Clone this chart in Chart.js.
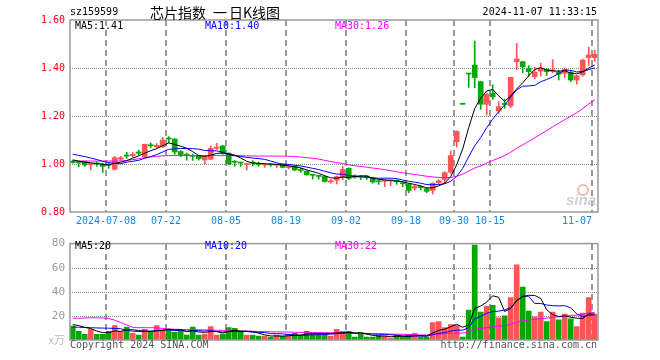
<!DOCTYPE html>
<html>
<head>
<meta charset="utf-8">
<script src="https://cdn.jsdelivr.net/npm/chart.js@4.4.1/dist/chart.umd.min.js"></script>
<style>
  body { margin: 0; background: #fff; }
  #wrap { position: relative; width: 660px; height: 360px; }
  canvas { position: absolute; left: 0; }
  #priceCanvas { top: 0; }
  #volCanvas { top: 232px; }
</style>
</head>
<body>
<div id="wrap">
  <canvas id="priceCanvas" width="660" height="232" style="width:660px;height:232px"></canvas>
  <canvas id="volCanvas" width="660" height="128" style="width:660px;height:128px"></canvas>
</div>
<script>
// trading days, 2024-06-28 .. 2024-11-07
const dates = [
  '06-28','07-01','07-02','07-03','07-04','07-05','07-08','07-09','07-10','07-11',
  '07-12','07-15','07-16','07-17','07-18','07-19','07-22','07-23','07-24','07-25',
  '07-26','07-29','07-30','07-31','08-01','08-02','08-05','08-06','08-07','08-08',
  '08-09','08-12','08-13','08-14','08-15','08-16','08-19','08-20','08-21','08-22',
  '08-23','08-26','08-27','08-28','08-29','08-30','09-02','09-03','09-04','09-05',
  '09-06','09-09','09-10','09-11','09-12','09-13','09-18','09-19','09-20','09-23',
  '09-24','09-25','09-26','09-27','09-30','10-08','10-09','10-10','10-11','10-14',
  '10-15','10-16','10-17','10-18','10-21','10-22','10-23','10-24','10-25','10-28',
  '10-29','10-30','10-31','11-01','11-04','11-05','11-06','11-07'
];

const opens = [
  1.012,1.008,1.010,0.997,1.004,1.000,0.998,0.978,1.020,1.035,
  1.035,1.050,1.030,1.080,1.072,1.072,1.106,1.104,1.052,1.040,
  1.035,1.033,1.017,1.020,1.065,1.075,1.045,1.010,1.006,0.998,
  1.006,1.000,0.996,0.998,0.995,1.000,0.985,0.990,0.976,0.970,
  0.955,0.950,0.948,0.925,0.933,0.945,0.982,0.950,0.948,0.950,
  0.940,0.930,0.928,0.930,0.932,0.922,0.915,0.900,0.906,0.897,
  0.890,0.922,0.936,0.966,1.093,1.249,1.375,1.412,1.343,1.249,
  1.294,1.221,1.252,1.242,1.426,1.426,1.398,1.364,1.387,1.394,
  1.386,1.382,1.378,1.382,1.350,1.371,1.443,1.443
];
const highs = [
  1.016,1.012,1.012,1.004,1.010,1.003,1.004,1.032,1.032,1.049,
  1.048,1.058,1.083,1.088,1.085,1.111,1.114,1.106,1.056,1.046,
  1.040,1.036,1.033,1.075,1.086,1.078,1.047,1.015,1.008,1.003,
  1.014,1.008,1.003,1.000,0.998,1.000,0.992,0.992,0.982,0.972,
  0.956,0.953,0.950,0.936,0.950,0.990,0.984,0.955,0.950,0.952,
  0.945,0.935,0.935,0.934,0.935,0.925,0.918,0.912,0.910,0.902,
  0.922,0.935,0.968,1.054,1.138,1.249,1.375,1.512,1.345,1.297,
  1.330,1.260,1.270,1.362,1.503,1.428,1.410,1.403,1.420,1.398,
  1.435,1.390,1.400,1.390,1.370,1.437,1.487,1.475
];
const lows = [
  1.004,0.988,0.990,0.975,0.990,0.965,0.982,0.975,1.015,1.024,
  1.028,1.037,1.025,1.068,1.068,1.068,1.088,1.040,1.030,1.016,
  1.015,1.016,1.000,1.018,1.060,1.040,0.998,0.990,0.990,0.975,
  0.992,0.990,0.986,0.990,0.985,0.985,0.980,0.972,0.965,0.953,
  0.937,0.937,0.925,0.920,0.917,0.935,0.935,0.940,0.935,0.935,
  0.920,0.915,0.906,0.910,0.915,0.905,0.880,0.890,0.892,0.880,
  0.875,0.918,0.918,0.960,1.070,1.249,1.319,1.318,1.228,1.204,
  1.270,1.211,1.232,1.235,1.392,1.380,1.366,1.355,1.366,1.369,
  1.380,1.350,1.360,1.343,1.333,1.366,1.410,1.427
];
const closes = [
  1.006,1.005,0.996,1.002,1.000,0.990,0.995,1.026,1.026,1.033,
  1.040,1.045,1.082,1.076,1.078,1.100,1.104,1.050,1.037,1.036,
  1.032,1.022,1.030,1.065,1.070,1.045,1.000,1.007,1.004,1.002,
  1.004,0.998,0.998,0.996,0.997,0.986,0.988,0.975,0.973,0.955,
  0.953,0.948,0.927,0.930,0.947,0.977,0.940,0.945,0.945,0.943,
  0.925,0.926,0.930,0.932,0.928,0.918,0.890,0.906,0.902,0.886,
  0.920,0.930,0.964,1.035,1.136,1.249,1.375,1.360,1.249,1.290,
  1.280,1.239,1.248,1.361,1.437,1.405,1.385,1.382,1.399,1.385,
  1.392,1.374,1.394,1.350,1.367,1.433,1.454,1.457
];
// volume, 万手
const volumes = [
  11.5,7.2,4.8,8.8,4.8,4.8,7.2,12,7.2,10.7,
  5.6,4,8.8,7.2,12,8,8.8,6.4,8,4,
  10.7,4,5,11.2,4,5,10.4,9.6,7.2,4,
  4,3.2,3.2,2.4,4,3.2,4.8,5.6,3.2,7.2,
  5.6,5.6,5.6,3.2,8.8,7.2,7.2,2.4,4.8,2.4,
  2.4,4,3.2,1.6,4,2.4,4,5.6,2.4,2.4,
  14.4,15.2,10.4,12.8,12,2.4,24.8,78.7,23.2,28,
  28.8,18.4,20,35.2,62.4,44,24,19.2,23.2,15.2,
  23.2,16.8,21.6,17.6,11.2,22.4,35.2,21.6
];

// moving average values before a full window is on screen
const ma5Head = [1.017, 1.012, 1.008, 1.005];
const ma10Head = [1.041, 1.036, 1.031, 1.025, 1.019, 1.011, 1.006, 1.003, 1.001];
const ma30Head = [
  1.0125,1.0125,1.0125,1.0125,1.0125,1.0125,1.0125,1.0125,1.0125,1.015,
  1.018,1.022,1.026,1.029,1.032,1.034,1.035,1.035,1.035,1.035,
  1.035,1.035,1.035,1.035,1.035,1.035,1.035,1.035,1.035
];
const volMa5Head = [12.8, 12, 10.5, 9.5];
const volMa10Head = [10.7, 10.6, 10.4, 10.2, 10, 9.9, 9.8, 9.6, 9.4];
const volMa30Head = [
  18.1,18.0,18.2,18.4,18.4,18.3,17.8,16.5,14.5,12.5,
  10.5,10.2,10.2,10.2,10.1,9.6,9.2,8.9,8.8,8.7,
  8.6,8.5,8.4,8.3,8.1,8.0,7.9,7.8,7.6
];

// x-axis labels: slot index -> text
const tickSlots = [6, 16, 26, 36, 46, 56, 64, 70, 87];
const tickLabels = ['2024-07-08','07-22','08-05','08-19','09-02','09-18','09-30','10-15','11-07'];

const RED = '#ff5555';
const GREEN = '#00aa00';
const MONO = 'DejaVu Sans Mono';

function movingAverage(values, n, head) {
    return values.map((_, i) => {
        if (i < n - 1) return head[i];
        let sum = 0;
        for (let k = i - n + 1; k <= i; k++) sum += values[k];
        return sum / n;
    });
}

const xs = dates.map((_, i) => i + 0.45);
const candleColor = i => closes[i] > opens[i] ? RED : GREEN;
const pts = arr => arr.map((v, i) => ({ x: xs[i], y: v }));

function maLine(data, color) {
    return {
        type: 'line',
        data: pts(data),
        borderColor: color,
        borderWidth: 1,
        pointRadius: 0,
        tension: 0,
        order: 0
    };
}

function xScale() {
    return {
        type: 'linear',
        min: 0,
        max: 88,
        offset: false,
        afterBuildTicks: s => { s.ticks = tickSlots.map(v => ({ value: v })); },
        afterFit: s => { s.height = 20; },
        ticks: { display: false },
        grid: { display: false },
        border: { display: false }
    };
}

// dashes drawn as short solid pieces
function drawGrid(chart) {
    const a = chart.chartArea;
    const c = chart.ctx;
    const xa = chart.scales.x;
    const ya = chart.scales.y;
    c.save();
    c.fillStyle = '#999999';
    tickSlots.forEach(v => {
        const px = Math.round(xa.getPixelForValue(v));
        for (let y = Math.round(a.top); y < a.bottom; y += 10) {
            c.fillRect(px - 1, y, 2, Math.min(6, a.bottom - y));
        }
    });
    c.fillStyle = '#888888';
    const step = ya.max > 10 ? 20 : 0.2;
    for (let v = ya.min + step; v < ya.max - step / 2; v += step) {
        const py = Math.round(ya.getPixelForValue(v));
        for (let x = Math.round(a.left); x < a.right; x += 2) {
            c.fillRect(x, py, 1, 1);
        }
    }
    c.restore();
}

const gridAndFrame = {
    id: 'gridAndFrame',
    beforeDatasetsDraw(chart) {
        drawGrid(chart);
    },
    afterDraw(chart) {
        const a = chart.chartArea;
        const c = chart.ctx;
        c.save();
        c.strokeStyle = '#999';
        c.lineWidth = 1.5;
        c.strokeRect(a.left, a.top, a.right - a.left, a.bottom - a.top);
        c.restore();
    }
};

function text(c, str, x, y, color, font, align) {
    c.fillStyle = color;
    c.font = font;
    c.textAlign = align || 'left';
    c.textBaseline = 'middle';
    c.fillText(str, x, y);
}

const priceLabels = {
    id: 'priceLabels',
    afterDraw(chart) {
        const c = chart.ctx;
        const f = '10px ' + MONO;
        const cjk = '14px "Noto Sans CJK SC"';
        c.save();
        text(c, 'sz159599', 70, 12.5, '#000', f);
        text(c, '芯片指数', 150, 12.5, '#000', cjk);
        text(c, '一', 213, 12.5, '#000', cjk);
        text(c, '日K线图', 229, 12.5, '#000', cjk);
        text(c, '2024-11-07 11:33:15', 597, 12.5, '#000', f, 'right');
        text(c, 'MA5:1.41', 75, 26.5, '#000', f);
        text(c, 'MA10:1.40', 205, 26.5, '#0000ff', f);
        text(c, 'MA30:1.26', 335, 26.5, '#ff00ff', f);
        const xa = chart.scales.x;
        tickSlots.forEach((v, k) => {
            const px = xa.getPixelForValue(v);
            const last = k === tickSlots.length - 1;
            text(c, tickLabels[k], px, 221, '#1a86d6', f, last ? 'right' : 'center');
        });
        // sina watermark
        c.strokeStyle = '#f2b8b8';
        c.lineWidth = 2;
        c.beginPath();
        c.arc(583, 190, 5, 0, Math.PI * 2);
        c.stroke();
        text(c, 'sina', 566, 201, '#d0d0d0', 'italic bold 15px "Liberation Sans"');
        c.restore();
    }
};

const volLabels = {
    id: 'volLabels',
    afterDraw(chart) {
        const c = chart.ctx;
        const f = '10px ' + MONO;
        c.save();
        text(c, 'MA5:20', 75, 14.5, '#000', f);
        text(c, 'MA10:20', 205, 14.5, '#0000ff', f);
        text(c, 'MA30:22', 335, 14.5, '#ff00ff', f);
        text(c, 'x万', 65, 108, '#bbb', '11px "Noto Sans CJK SC"', 'right');
        text(c, 'Copyright 2024 SINA.COM', 70, 113.5, '#555', f);
        text(c, 'http://finance.sina.com.cn', 597, 113.5, '#555', f, 'right');
        c.restore();
    }
};

const common = {
    responsive: false,
    animation: false,
    events: [],
    plugins: { legend: { display: false }, tooltip: { enabled: false } }
};

new Chart(document.getElementById('priceCanvas').getContext('2d'), {
    type: 'bar',
    data: {
        datasets: [
            maLine(movingAverage(closes, 5, ma5Head), '#000'),
            maLine(movingAverage(closes, 10, ma10Head), '#0000ff'),
            maLine(movingAverage(closes, 30, ma30Head), '#ff00ff'),
            {
                data: opens.map((o, i) => ({ x: xs[i], y: [o, closes[i]] })),
                backgroundColor: ctx => candleColor(ctx.dataIndex),
                barThickness: 5,
                minBarLength: 1,
                grouped: false,
                borderWidth: 0,
                order: 1
            },
            {
                data: lows.map((l, i) => ({ x: xs[i], y: [l, highs[i]] })),
                backgroundColor: ctx => candleColor(ctx.dataIndex),
                barThickness: 1,
                grouped: false,
                borderWidth: 0,
                order: 2
            }
        ]
    },
    options: {
        ...common,
        layout: { padding: { left: 0, right: 62, top: 20, bottom: 0 } },
        scales: {
            x: xScale(),
            y: {
                min: 0.8,
                max: 1.6,
                afterFit: s => { s.width = 70; },
                ticks: {
                    stepSize: 0.2,
                    color: '#ff0000',
                    padding: 5,
                    font: { family: MONO, size: 10 },
                    callback: v => Number(v).toFixed(2)
                },
                grid: { display: false, drawTicks: false },
                border: { display: false }
            }
        }
    },
    plugins: [gridAndFrame, priceLabels]
});

new Chart(document.getElementById('volCanvas').getContext('2d'), {
    type: 'bar',
    data: {
        datasets: [
            maLine(movingAverage(volumes, 5, volMa5Head), '#000'),
            maLine(movingAverage(volumes, 10, volMa10Head), '#0000ff'),
            maLine(movingAverage(volumes, 30, volMa30Head), '#ff00ff'),
            {
                data: pts(volumes),
                backgroundColor: ctx => candleColor(ctx.dataIndex),
                barThickness: 5,
                grouped: false,
                borderWidth: 0,
                order: 1
            }
        ]
    },
    options: {
        ...common,
        layout: { padding: { left: 0, right: 62, top: 9, bottom: 0 } },
        scales: {
            x: xScale(),
            y: {
                min: 0,
                max: 80,
                afterFit: s => { s.width = 70; },
                ticks: {
                    stepSize: 20,
                    color: '#999',
                    padding: 5,
                    font: { family: MONO, size: 11 },
                    callback: v => v === 0 ? '' : v
                },
                grid: { display: false, drawTicks: false },
                border: { display: false }
            }
        }
    },
    plugins: [gridAndFrame, volLabels]
});
</script>
</body>
</html>
